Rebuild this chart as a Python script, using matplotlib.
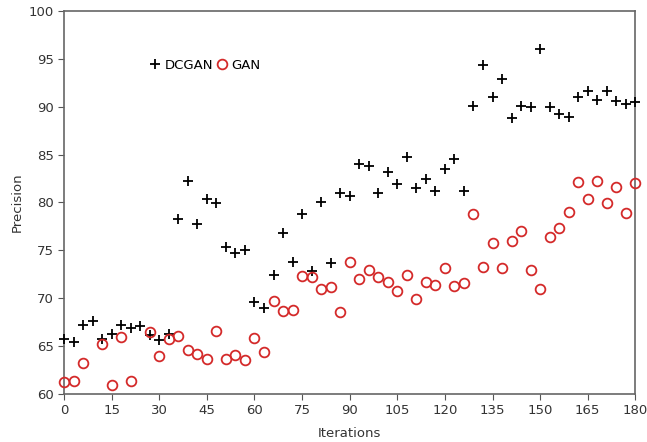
"""Precision of DCGAN vs GAN over training iterations."""

import matplotlib.pyplot as plt
import numpy as np

iterations = np.arange(0, 181, 3)

dcgan = [
    65.7, 65.4, 67.2, 67.6, 65.7, 66.3, 67.2, 66.9, 67.1, 66.1,
    65.6, 66.3, 78.3, 82.2, 77.7, 80.4, 79.9, 75.3, 74.7, 75.0,
    69.6, 69.0, 72.4, 76.8, 73.8, 78.8, 72.8, 80.0, 73.7, 81.0,
    80.7, 84.0, 83.8, 81.0, 83.2, 81.9, 84.7, 81.5, 82.4, 81.2,
    83.5, 84.5, 81.2, 90.1, 94.4, 91.0, 92.9, 88.8, 90.1, 90.0,
    96.0, 90.0, 89.2, 88.9, 91.0, 91.6, 90.7, 91.6, 90.6, 90.3,
    90.5,
]

gan = [
    61.2, 61.3, 63.2, np.nan, 65.2, 60.9, 65.9, 61.3, np.nan, 66.5,
    64.0, 65.7, 66.0, 64.6, 64.2, 63.6, 66.6, 63.6, 64.1, 63.5,
    65.8, 64.4, 69.7, 68.7, 68.8, 72.3, 72.2, 71.0, 71.2, 68.6,
    73.8, 72.0, 72.9, 72.2, 71.7, 70.7, 72.4, 69.9, 71.7, 71.4,
    73.2, 71.3, 71.6, 78.8, 73.3, 75.8, 73.2, 76.0, 77.0, 72.9,
    71.0, 76.4, 77.3, 79.0, 82.1, 80.4, 82.2, 79.9, 81.6, 78.9,
    82.0,
]

fig = plt.figure(figsize=(6.47, 4.42), dpi=100)
ax = fig.add_axes([0.099, 0.109, 0.883, 0.866])

ax.plot(iterations, dcgan, "+", color="black", markersize=7, markeredgewidth=1.3,
        linestyle="none", label="DCGAN", clip_on=False, zorder=3)
ax.plot(iterations, gan, "o", color="#d42a2a", markerfacecolor="none", markersize=7,
        markeredgewidth=1.3, linestyle="none", label="GAN", clip_on=False, zorder=3)

ax.set_xlim(0, 180)
ax.set_ylim(60, 100)
ax.set_xticks(np.arange(0, 181, 15))
ax.set_yticks(np.arange(60, 101, 5))
ax.tick_params(direction="out", length=4, color="#555555", labelcolor="#333333", labelsize=9.5)
for spine in ax.spines.values():
    spine.set_color("#666666")
    spine.set_linewidth(1.2)

ax.set_xlabel("Iterations", fontsize=9.5, color="#333333", labelpad=7)
ax.set_ylabel("Precision", fontsize=9.5, color="#333333", labelpad=3)

ax.legend(loc="center", bbox_to_anchor=(0.247, 0.859), ncol=2, frameon=False,
          handlelength=0.8, handletextpad=0.3, columnspacing=0.3, fontsize=9.5)

fig.savefig("out.png", dpi=100)
